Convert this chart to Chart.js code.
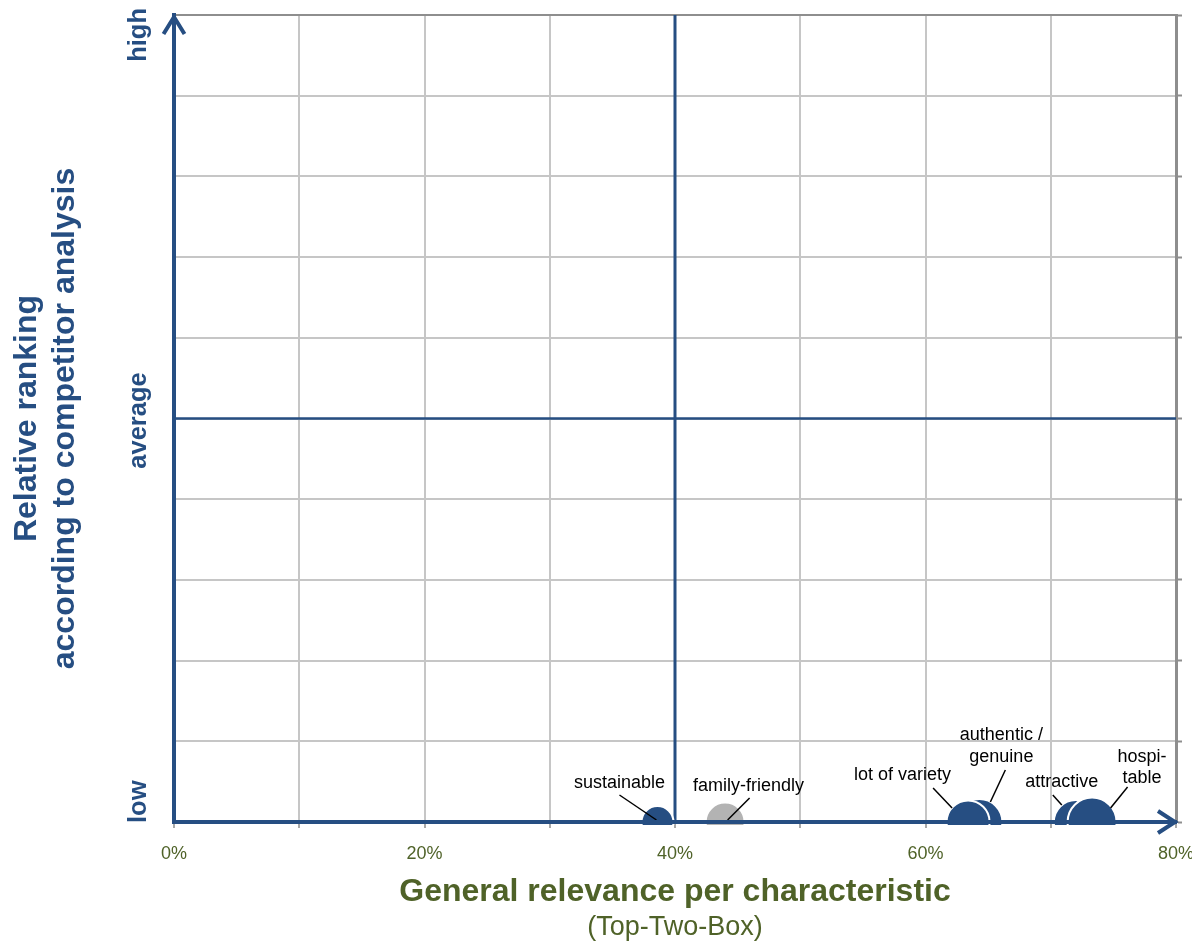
<!DOCTYPE html>
<html>
<head>
<meta charset="utf-8">
<script src="https://cdn.jsdelivr.net/npm/chart.js@4/dist/chart.umd.min.js"></script>
<style>
  html, body { margin: 0; padding: 0; background: #ffffff; }
  canvas { display: block; }
</style>
</head>
<body>
<canvas id="chart" width="1192" height="941"></canvas>
<script>
// Characteristics, in drawing order (later bubbles sit on top of earlier ones)
const characteristics = ['sustainable', 'family-friendly', 'authentic / genuine', 'lot of variety', 'attractive', 'hospitable'];
// Label text beside each bubble, with its line breaks
const labelLines = [['sustainable'], ['family-friendly'], ['authentic /', 'genuine'], ['lot of variety'], ['attractive'], ['hospi-', 'table']];
// General relevance per characteristic, Top-Two-Box in %
const relevance = [38.6, 44.0, 64.3, 63.4, 72.0, 73.3];
// Relative ranking according to competitor analysis (0 = low, 5 = average, 10 = high)
const ranking = [0, 0, 0, 0, 0, 0];
// Bubble size
const bubbleSize = [16, 19.5, 23, 21.5, 22, 24.5];
// Secondary characteristics are shown in grey
const secondary = [false, true, false, false, false, false];

// Axis ticks
const xTickValues = [0, 20, 40, 60, 80];
const rankLabels = ['low', 'average', 'high'];
const rankLabelValues = [0, 5, 10];

// Quadrant dividers
const relevanceDivider = 40;
const rankingAverage = 5;

// ---- styling ----
const BLUE = '#264E82';
const GREEN = '#4F6228';
const GREY_BUBBLE = '#B3B3B3';
const GRID = '#C6C6C6';
const FRAME = '#8E8E8E';
const FONT = '"Liberation Sans", Arial, Helvetica, sans-serif';

Chart.defaults.font.family = FONT;

// Label placement relative to each bubble centre (px): text anchor, leader line start and end
const callouts = [
  { dx: -38,  dy: -34,   from: [-38, -27],  to: [-1, -2] },
  { dx: 23.5, dy: -31,   from: [24.5, -24], to: [2.5, -2] },
  { dx: 22,   dy: -82,   from: [26, -52],   to: [11, -20] },
  { dx: -65.5, dy: -42,  from: [-35, -34],  to: [-16, -14] },
  { dx: -14,  dy: -34.7, from: [-23, -27],  to: [-14, -17] },
  { dx: 50,   dy: -60.3, from: [35.5, -35], to: [18.5, -14] }
];

const bubbles = relevance.map((x, i) => ({ x: x, y: ranking[i], r: bubbleSize[i] }));

// Text labels and leader lines next to the bubbles
const calloutPlugin = {
  id: 'callouts',
  afterDatasetsDraw(chart) {
    const meta = chart.getDatasetMeta(0);
    const ctx = chart.ctx;
    ctx.save();
    ctx.font = '18px ' + FONT;
    ctx.fillStyle = '#000000';
    ctx.strokeStyle = '#000000';
    ctx.lineWidth = 1.5;
    ctx.textAlign = 'center';
    ctx.textBaseline = 'alphabetic';
    meta.data.forEach((pt, i) => {
      const c = callouts[i];
      ctx.beginPath();
      ctx.moveTo(pt.x + c.from[0], pt.y + c.from[1]);
      ctx.lineTo(pt.x + c.to[0], pt.y + c.to[1]);
      ctx.stroke();
      labelLines[i].forEach((line, k) => {
        ctx.fillText(line, pt.x + c.dx, pt.y + c.dy + k * 21.5);
      });
    });
    ctx.restore();
  }
};

// Arrowheads on both axes and the rotated low / average / high labels
const axisDecorPlugin = {
  id: 'axisDecor',
  afterDraw(chart) {
    const ctx = chart.ctx;
    const { left, right, top, bottom } = chart.chartArea;
    const yScale = chart.scales.y;
    ctx.save();
    ctx.strokeStyle = BLUE;
    ctx.lineWidth = 4;
    ctx.lineJoin = 'miter';
    ctx.lineCap = 'butt';
    ctx.beginPath();
    ctx.moveTo(left - 10.5, top + 19);
    ctx.lineTo(left, top + 2);
    ctx.lineTo(left + 10.5, top + 19);
    ctx.stroke();
    ctx.beginPath();
    ctx.moveTo(right - 18, bottom - 11);
    ctx.lineTo(right - 1, bottom);
    ctx.lineTo(right - 18, bottom + 11);
    ctx.stroke();

    ctx.fillStyle = BLUE;
    ctx.font = 'bold 25.5px ' + FONT;
    ctx.textBaseline = 'middle';
    const place = [
      { align: 'left',   shift: 1 },
      { align: 'center', shift: 2 },
      { align: 'right',  shift: -7 }
    ];
    rankLabels.forEach((txt, i) => {
      ctx.save();
      ctx.translate(left - 35, yScale.getPixelForValue(rankLabelValues[i]) + place[i].shift);
      ctx.rotate(-Math.PI / 2);
      ctx.textAlign = place[i].align;
      ctx.fillText(txt, 0, 0);
      ctx.restore();
    });
    ctx.restore();
  }
};

new Chart(document.getElementById('chart'), {
  type: 'bubble',
  data: {
    datasets: [
      {
        label: 'Characteristics',
        data: bubbles,
        backgroundColor: secondary.map(s => s ? GREY_BUBBLE : BLUE),
        borderColor: '#ffffff',
        borderWidth: 2,
        order: 0,
        clip: { left: false, top: false, right: false, bottom: 3 }
      },
      {
        type: 'line',
        label: 'relevance divider',
        data: [{ x: relevanceDivider, y: 0 }, { x: relevanceDivider, y: 10 }],
        borderColor: BLUE,
        borderWidth: 3,
        pointRadius: 0,
        order: 1
      },
      {
        type: 'line',
        label: 'average ranking',
        data: [{ x: 0, y: rankingAverage }, { x: 80, y: rankingAverage }],
        borderColor: BLUE,
        borderWidth: 2.5,
        pointRadius: 0,
        order: 1
      }
    ]
  },
  options: {
    responsive: false,
    animation: false,
    devicePixelRatio: 1,
    layout: { padding: { top: 15, left: 0, right: 0, bottom: 0 }, autoPadding: false },
    plugins: {
      legend: { display: false },
      tooltip: { enabled: false },
      subtitle: {
        display: true,
        text: '(Top-Two-Box)',
        position: 'bottom',
        fullSize: false,
        color: GREEN,
        font: { size: 27, weight: 'normal', lineHeight: 1 },
        padding: 0
      }
    },
    scales: {
      x: {
        type: 'linear',
        position: 'bottom',
        min: 0,
        max: 80,
        afterFit: s => { s.height = 92; s.paddingLeft = 0; s.paddingRight = 0; },
        ticks: {
          stepSize: 10,
          autoSkip: false,
          maxRotation: 0,
          padding: 15,
          color: GREEN,
          font: { size: 18 },
          callback: v => xTickValues.includes(v) ? v + '%' : ''
        },
        grid: {
          color: GRID,
          lineWidth: 2,
          tickLength: 6,
          tickColor: '#A8A8A8',
          tickWidth: 2
        },
        border: { color: BLUE, width: 4, z: 1 },
        title: {
          display: true,
          text: 'General relevance per characteristic',
          color: GREEN,
          font: { size: 32, weight: 'bold' },
          padding: { top: 0, bottom: 3 }
        }
      },
      y: {
        type: 'linear',
        position: 'left',
        min: 0,
        max: 10,
        afterFit: s => { s.width = 174; s.paddingTop = 0; s.paddingBottom = 0; },
        ticks: { display: false, stepSize: 1 },
        grid: {
          color: c => (c.tick && c.tick.value === 10) ? FRAME : GRID,
          lineWidth: 2,
          drawTicks: false
        },
        border: { color: BLUE, width: 4, z: 1 },
        title: {
          display: true,
          text: ['Relative ranking', 'according to competitor analysis'],
          color: BLUE,
          font: { size: 32, weight: 'bold' },
          padding: { top: 8, bottom: 0 }
        }
      },
      y2: {
        type: 'linear',
        position: 'right',
        min: 0,
        max: 10,
        afterFit: s => { s.width = 16; s.paddingTop = 0; s.paddingBottom = 0; },
        ticks: { display: false, stepSize: 1 },
        grid: {
          drawOnChartArea: false,
          tickLength: 6,
          tickColor: FRAME,
          tickWidth: 2
        },
        border: { color: FRAME, width: 3 }
      }
    }
  },
  plugins: [calloutPlugin, axisDecorPlugin]
});
</script>
</body>
</html>
